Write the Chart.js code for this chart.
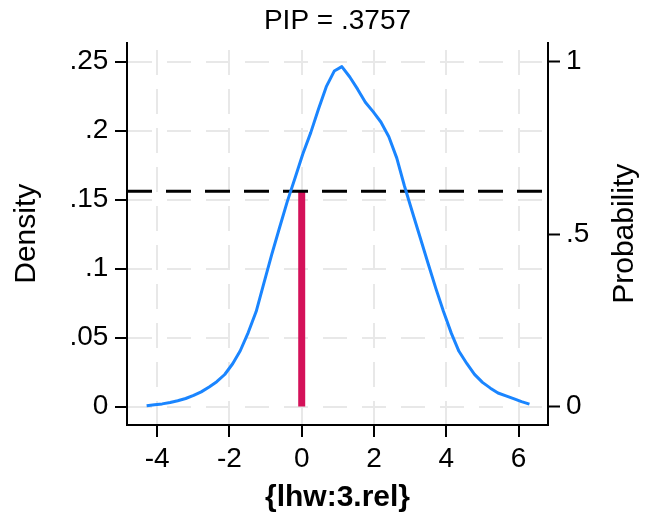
<!DOCTYPE html>
<html>
<head>
<meta charset="utf-8">
<script src="https://cdn.jsdelivr.net/npm/chart.js@4.4.0/dist/chart.umd.min.js"></script>
<style>
  html, body { margin: 0; padding: 0; background: #ffffff; }
  #c { display: block; }
</style>
</head>
<body>
<canvas id="c" width="646" height="521"></canvas>
<script>
// ---- data ----
const titleText = 'PIP = .3757';
const pip = 0.3757;
const probZero = 0.6243;           // 1 - PIP, height of the spike at 0 (probability axis)
const spikeX = [0, 0];
const spikeY = [0, probZero];

const xs = [-4.29,-4.07,-3.86,-3.64,-3.43,-3.21,-2.99,-2.78,-2.56,-2.35,
            -2.13,-1.91,-1.70,-1.48,-1.26,-1.05,-0.83,-0.62,-0.40,-0.18,
             0.03, 0.25, 0.46, 0.68, 0.90, 1.11, 1.33, 1.55, 1.76, 1.98,
             2.19, 2.41, 2.63, 2.84, 3.06, 3.27, 3.49, 3.71, 3.92, 4.14,
             4.35, 4.57, 4.78, 5.00, 5.22, 5.43, 5.65, 5.86, 6.08, 6.30];
const density = [0.0005,0.0012,0.0019,0.0029,0.0042,0.0058,0.0080,0.0106,0.0142,0.0180,
                 0.0232,0.0310,0.0404,0.0536,0.0688,0.0890,0.1100,0.1290,0.1485,0.1660,
                 0.1830,0.1985,0.2153,0.2318,0.2431,0.2463,0.2388,0.2298,0.2205,0.2135,
                 0.2062,0.1955,0.1800,0.1600,0.1410,0.1230,0.1042,0.0856,0.0690,0.0530,
                 0.0400,0.0310,0.0233,0.0175,0.0133,0.0098,0.0077,0.0057,0.0035,0.0017];

const xTickValues = [-4, -2, 0, 2, 4, 6];
const xTickLabels = ['-4', '-2', '0', '2', '4', '6'];
const densityTickValues = [0, 0.05, 0.10, 0.15, 0.20, 0.25];
const densityTickLabels = ['0', '.05', '.1', '.15', '.2', '.25'];
const probTickValues = [0, 0.5, 1];
const probTickLabels = ['0', '.5', '1'];

const xRange = [-4.833, 6.813];
const densityRange = [-0.0134, 0.2638];
const probRange = [-0.0536, 1.0551];

const xTitle = '{lhw:3.rel}';
const yTitle = 'Density';
const y2Title = 'Probability';

// ---- chart ----
const FONT = '"Liberation Sans", Arial, Helvetica, sans-serif';
Chart.defaults.font.family = FONT;
Chart.defaults.font.size = 28;
Chart.defaults.color = '#000000';

const curvePts = xs.map((x, i) => ({ x: x, y: density[i] }));
const spikePts = spikeX.map((x, i) => ({ x: x, y: spikeY[i] }));
const ylinePts = xRange.map(x => ({ x: x, y: probZero }));

const rightTitlePlugin = {
  id: 'rightTitle',
  afterDraw(chart) {
    const { ctx, chartArea } = chart;
    ctx.save();
    ctx.fillStyle = '#000000';
    ctx.font = '30px ' + FONT;
    ctx.textAlign = 'center';
    ctx.textBaseline = 'alphabetic';
    ctx.translate(633, (chartArea.top + chartArea.bottom) / 2);
    ctx.rotate(-Math.PI / 2);
    ctx.fillText(y2Title, 0, 0);
    ctx.restore();
  }
};

const GRID = '#e8e8e8';

new Chart(document.getElementById('c'), {
  type: 'line',
  data: {
    datasets: [
      { label: 'density', data: curvePts, yAxisID: 'y', borderColor: '#1a85ff',
        borderWidth: 3, pointRadius: 0, tension: 0, fill: false, borderJoinStyle: 'round' },
      { label: 'yline', data: ylinePts, yAxisID: 'y2', borderColor: '#000000',
        borderWidth: 3, borderDash: [25, 14], pointRadius: 0, tension: 0, fill: false },
      { label: 'spike', data: spikePts, yAxisID: 'y2', borderColor: '#d41159',
        borderWidth: 7, borderCapStyle: 'butt', pointRadius: 0, tension: 0, fill: false }
    ]
  },
  options: {
    responsive: false,
    animation: false,
    devicePixelRatio: 1,
    layout: { padding: { top: 0, left: 0, right: 0, bottom: 0 } },
    plugins: {
      legend: { display: false },
      tooltip: { enabled: false },
      title: { display: true, text: titleText, fullSize: false, color: '#000000',
               font: { size: 28, weight: 'normal', family: FONT },
               padding: { top: 4.5, bottom: 4.4 } }
    },
    scales: {
      x: {
        type: 'linear', position: 'bottom', min: xRange[0], max: xRange[1],
        afterBuildTicks: s => { s.ticks = xTickValues.map(v => ({ value: v })); },
        afterFit: s => { s.height = 96; },
        ticks: { callback: (v, i) => xTickLabels[i], padding: 5.5, maxRotation: 0, autoSkip: false, color: '#000000' },
        grid: { color: GRID, lineWidth: 2, drawTicks: true, tickLength: 12, tickColor: '#000000', tickWidth: 2 },
        border: { display: true, color: '#000000', width: 2, dash: [25, 14], dashOffset: 31.5 },
        title: { display: true, text: xTitle, color: '#000000', font: { size: 30, weight: 'bold' },
                 padding: { top: 0, bottom: 5.4 } }
      },
      y: {
        type: 'linear', position: 'left', min: densityRange[0], max: densityRange[1],
        afterBuildTicks: s => { s.ticks = densityTickValues.map(v => ({ value: v })); },
        afterFit: s => { s.width = 127; },
        ticks: { callback: (v, i) => densityTickLabels[i], padding: 6.7, autoSkip: false, color: '#000000' },
        grid: { color: GRID, lineWidth: 2, drawTicks: true, tickLength: 12, tickColor: '#000000', tickWidth: 2 },
        border: { display: true, color: '#000000', width: 2, dash: [24, 15], dashOffset: 0 },
        title: { display: true, text: yTitle, color: '#000000', font: { size: 30 },
                 padding: { top: 8.6, bottom: 0 } }
      },
      y2: {
        type: 'linear', position: 'right', min: probRange[0], max: probRange[1],
        afterBuildTicks: s => { s.ticks = probTickValues.map(v => ({ value: v })); },
        afterFit: s => { s.width = 98; },
        ticks: { callback: (v, i) => probTickLabels[i], padding: 6, autoSkip: false, color: '#000000' },
        grid: { drawOnChartArea: false, drawTicks: true, tickLength: 12, tickColor: '#000000', tickWidth: 2 },
        border: { display: true, color: '#000000', width: 2 }
      }
    }
  },
  plugins: [rightTitlePlugin]
});
</script>
</body>
</html>
